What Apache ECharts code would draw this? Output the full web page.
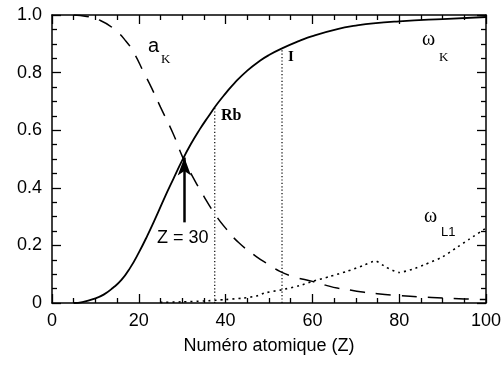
<!DOCTYPE html>
<html>
<head>
<meta charset="utf-8">
<script src="https://cdn.jsdelivr.net/npm/echarts@6/dist/echarts.min.js"></script>
<style>
  html, body { margin: 0; padding: 0; background: #fff; }
  #chart { width: 504px; height: 365px; }
</style>
</head>
<body>
<div id="chart"></div>
<script>
// fluorescence yield omega_K: [Z, value]
const omegaK = [
  [5, 0], [7, 0.003], [10, 0.016], [12, 0.03], [14, 0.052], [16, 0.08],
  [18, 0.122], [20, 0.175], [22, 0.235], [24, 0.3], [26, 0.368], [28, 0.432],
  [30, 0.495], [32, 0.552], [34, 0.602], [36, 0.647], [38, 0.69], [40, 0.728],
  [42, 0.763], [45, 0.807], [48, 0.842], [50, 0.861], [53, 0.884], [57, 0.91],
  [60, 0.927], [66, 0.952], [70, 0.963], [74, 0.971], [80, 0.978],
  [90, 0.986], [100, 0.993]
]
// Auger yield a_K
const augerK = [
  [5, 1.0], [8, 0.995], [11, 0.982], [14, 0.955], [17, 0.91], [19, 0.865],
  [21, 0.805], [23, 0.745], [25, 0.68], [28, 0.585], [30, 0.51], [32, 0.45],
  [35, 0.37], [37.5, 0.31], [40, 0.26], [43, 0.21], [47, 0.162], [50, 0.133],
  [52.5, 0.11], [56, 0.09], [60, 0.075], [63, 0.062], [66, 0.051], [69, 0.044],
  [72, 0.037], [75, 0.032], [80, 0.026], [85, 0.021], [90, 0.017],
  [95, 0.014], [100, 0.012]
]
// fluorescence yield omega_L1
const omegaL1 = [
  [25, 0.002], [30, 0.004], [35, 0.007], [40, 0.012], [44, 0.017], [47, 0.024],
  [49, 0.035], [53, 0.046], [57, 0.06], [60, 0.075], [64, 0.092], [68, 0.11],
  [72, 0.132], [74.5, 0.146], [77, 0.124], [80, 0.106], [83, 0.117],
  [86, 0.134], [90, 0.16], [93, 0.19], [96, 0.22], [100, 0.26]
]
// vertical markers at Rb and I, and the Z = 30 arrow
const rbLine = [[37.5, 0], [37.5, 0.685]]
const iLine = [[53, 0], [53, 0.884]]
const arrowLine = [[30.5, 0.28], [30.5, 0.505]]

const xTicks = [0, 20, 40, 60, 80, 100]
const yTicks = [0, 0.2, 0.4, 0.6, 0.8, 1.0]

const chart = echarts.init(document.getElementById('chart'))
const black = '#000'
const font = 'Liberation Sans, Arial, sans-serif'
const serif = 'Liberation Serif, Times New Roman, serif'

// fresh axis objects each time so the four frame axes don't share state
function frameAxis(extra) {
  return Object.assign({
    type: 'value',
    axisLine: { show: true, onZero: false, lineStyle: { color: black, width: 1.5 } },
    axisTick: { show: true, inside: true, length: 9, lineStyle: { color: black, width: 1.3 } },
    minorTick: { show: true, splitNumber: 4, length: 5, lineStyle: { color: black, width: 1.3 } },
    splitLine: { show: false },
    minorSplitLine: { show: false }
  }, extra)
}

chart.setOption({
  animation: false,
  grid: { left: 52, right: 18, top: 15, bottom: 62 },
  xAxis: [
    frameAxis({
      position: 'bottom', min: xTicks[0], max: xTicks[xTicks.length - 1], interval: 20,
      name: 'Numéro atomique (Z)', nameLocation: 'middle', nameGap: 34,
      nameTextStyle: { color: black, fontSize: 18, fontFamily: font },
      axisLabel: { color: black, fontSize: 18, fontFamily: font, margin: 9 }
    }),
    frameAxis({ position: 'top', min: 0, max: 100, interval: 20, axisLabel: { show: false } })
  ],
  yAxis: [
    frameAxis({
      position: 'left', min: yTicks[0], max: yTicks[yTicks.length - 1], interval: 0.2,
      axisLabel: {
        color: black, fontSize: 18, fontFamily: font, margin: 10,
        formatter: v => (v === 0 ? '0' : v.toFixed(1))
      }
    }),
    frameAxis({ position: 'right', min: 0, max: 1, interval: 0.2, axisLabel: { show: false } })
  ],
  series: [
    {
      name: 'omegaK', type: 'line', data: omegaK, smooth: true, symbol: 'none',
      lineStyle: { color: black, width: 1.8 }
    },
    {
      name: 'aK', type: 'line', data: augerK, smooth: true, symbol: 'none',
      lineStyle: { color: black, width: 1.5, type: [15, 11] }
    },
    {
      name: 'omegaL1', type: 'line', data: omegaL1, smooth: 0.2, symbol: 'none',
      lineStyle: { color: black, width: 1.6, type: [2, 4] }
    },
    {
      name: 'Rb', type: 'line', data: rbLine, symbol: 'none',
      lineStyle: { color: black, width: 1.2, type: [1.2, 2.2] }
    },
    {
      name: 'I', type: 'line', data: iLine, symbol: 'none',
      lineStyle: { color: black, width: 1.2, type: [1.2, 2.2] }
    },
    {
      name: 'arrow', type: 'line', data: [], symbol: 'none',
      markLine: {
        silent: true, symbol: ['none', 'arrow'], symbolSize: [10, 18],
        label: { show: false },
        lineStyle: { color: black, width: 2.5, type: 'solid' },
        data: [[{ coord: arrowLine[0] }, { coord: arrowLine[1] }]]
      }
    }
  ],
  graphic: [
    { type: 'text', left: 148, top: 36, style: { text: 'a', fontSize: 20, fontFamily: font, fill: black } },
    { type: 'text', left: 161, top: 53, style: { text: 'K', fontSize: 13, fontFamily: serif, fill: black } },
    { type: 'text', left: 422, top: 30, style: { text: 'ω', fontSize: 20, fontFamily: serif, fill: black } },
    { type: 'text', left: 439, top: 51, style: { text: 'K', fontSize: 13, fontFamily: serif, fill: black } },
    { type: 'text', left: 424, top: 207, style: { text: 'ω', fontSize: 20, fontFamily: serif, fill: black } },
    { type: 'text', left: 441, top: 226, style: { text: 'L1', fontSize: 13, fontFamily: font, fill: black } },
    { type: 'text', left: 221, top: 108, style: { text: 'Rb', fontSize: 16, fontWeight: 'bold', fontFamily: serif, fill: black } },
    { type: 'text', left: 288, top: 50, style: { text: 'I', fontSize: 15, fontWeight: 'bold', fontFamily: serif, fill: black } },
    { type: 'text', left: 157, top: 229, style: { text: 'Z = 30', fontSize: 18, fontFamily: font, fill: black } }
  ]
})
</script>
</body>
</html>
